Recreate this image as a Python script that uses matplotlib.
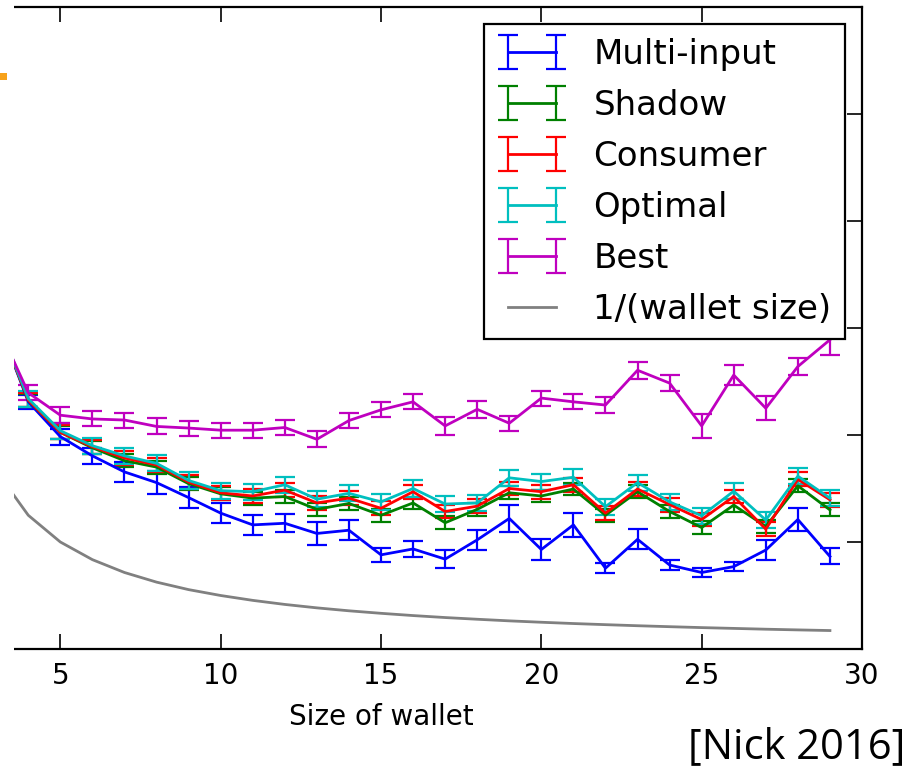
import matplotlib
matplotlib.use("Agg")
import matplotlib.pyplot as plt
from matplotlib.patches import Rectangle

plt.style.use("classic")
plt.rcParams["font.size"] = 20
plt.rcParams["figure.facecolor"] = "white"
plt.rcParams["savefig.facecolor"] = "white"

# wallet sizes 3..29
sizes = list(range(3, 30))

multi_input = [0.62, 0.462, 0.397, 0.361, 0.331, 0.311, 0.283, 0.254, 0.232, 0.235, 0.216, 0.222,
               0.176, 0.187, 0.168, 0.204, 0.244, 0.186, 0.232, 0.151, 0.205, 0.157, 0.143, 0.154,
               0.185, 0.242, 0.173]
multi_err = [0.013, 0.013, 0.015, 0.015, 0.019, 0.021, 0.019, 0.019, 0.019, 0.017, 0.022, 0.019,
             0.013, 0.015, 0.017, 0.019, 0.025, 0.019, 0.022, 0.009, 0.019, 0.009, 0.009, 0.009,
             0.019, 0.021, 0.015]

shadow = [0.62, 0.465, 0.405, 0.376, 0.352, 0.340, 0.309, 0.290, 0.282, 0.285, 0.261, 0.272,
          0.250, 0.273, 0.236, 0.261, 0.292, 0.286, 0.299, 0.250, 0.294, 0.257, 0.227, 0.269,
          0.229, 0.305, 0.260]
shadow_err = [0.012] * 27

consumer = [0.62, 0.465, 0.405, 0.378, 0.357, 0.344, 0.312, 0.292, 0.286, 0.297, 0.273, 0.282,
            0.263, 0.294, 0.257, 0.267, 0.300, 0.294, 0.307, 0.254, 0.299, 0.270, 0.242, 0.285,
            0.224, 0.317, 0.279]
consumer_err = [0.013] * 27

optimal = [0.62, 0.468, 0.408, 0.380, 0.361, 0.347, 0.315, 0.296, 0.294, 0.307, 0.280, 0.291,
           0.275, 0.300, 0.271, 0.273, 0.320, 0.313, 0.321, 0.266, 0.311, 0.275, 0.249, 0.295,
           0.241, 0.323, 0.282]
optimal_err = [0.015] * 27

best = [0.61, 0.479, 0.437, 0.430, 0.428, 0.416, 0.413, 0.409, 0.409, 0.414, 0.392, 0.427,
        0.447, 0.462, 0.417, 0.448, 0.422, 0.469, 0.462, 0.456, 0.521, 0.497, 0.417, 0.512,
        0.450, 0.528, 0.578]
best_err = [0.014, 0.014, 0.015, 0.014, 0.014, 0.015, 0.014, 0.014, 0.014, 0.014, 0.015, 0.014,
            0.014, 0.014, 0.017, 0.016, 0.014, 0.014, 0.014, 0.015, 0.016, 0.015, 0.022, 0.018,
            0.022, 0.016, 0.028]

inverse = [0.333, 0.25, 0.2, 0.167, 0.143, 0.125, 0.111, 0.1, 0.0909, 0.0833, 0.0769, 0.0714,
           0.0667, 0.0625, 0.0588, 0.0556, 0.0526, 0.05, 0.0476, 0.0455, 0.0435, 0.0417, 0.04,
           0.0385, 0.037, 0.0357, 0.0345]

series = [
    ("Multi-input", multi_input, multi_err, "b"),
    ("Shadow", shadow, shadow_err, "g"),
    ("Consumer", consumer, consumer_err, "r"),
    ("Optimal", optimal, optimal_err, "c"),
    ("Best", best, best_err, "m"),
]

W, H = 911, 768
fig = plt.figure(figsize=(W / 100, H / 100), dpi=100)
# the source image is a crop: the axes start left of the picture
ax = fig.add_axes([-100 / W, (H - 649) / H, (862 + 100) / W, (649 - 7) / H])

for label, vals, errs, color in series:
    ax.errorbar(sizes, vals, yerr=errs, color=color, linewidth=2, elinewidth=1.6,
                capsize=7, capthick=1.6, label=label)
ax.plot(sizes, inverse, color="0.5", linewidth=2, label="1/(wallet size)")

ax.set_xlim(0, 30)
ax.set_ylim(0, 1.2)
ax.set_xticks([5, 10, 15, 20, 25, 30])
ax.set_yticks([0.2, 0.4, 0.6, 0.8, 1.0])
for side in ["top", "right", "bottom"]:
    ax.spines[side].set_linewidth(1.6)
ax.tick_params(axis="both", which="major", direction="in", length=11, width=1.2)
ax.tick_params(axis="x", pad=9, top=True)
ax.tick_params(axis="y", labelleft=False, labelright=False)
ax.set_xlabel("Size of wallet", labelpad=10)

handles, labels = ax.get_legend_handles_labels()
handles = handles[1:] + handles[:1]
labels = labels[1:] + labels[:1]
leg = ax.legend(handles, labels, loc="upper right", fontsize=24.5, labelspacing=0.53)
leg.get_frame().set_linewidth(1.6)

# white margin on the left of the crop, plus the small orange mark
fig.patches.append(Rectangle((0, 0), 14 / W, 1, transform=fig.transFigure,
                             facecolor="white", edgecolor="none", zorder=10))
fig.patches.append(Rectangle((0, 1 - 80 / H), 7 / W, 7 / H, transform=fig.transFigure,
                             facecolor="#f7a21b", edgecolor="none", zorder=11))

fig.text(905 / W, 10 / H, "[Nick 2016]", family="Open Sans", fontsize=30,
         ha="right", va="baseline")

fig.savefig("out.png", dpi=100)
